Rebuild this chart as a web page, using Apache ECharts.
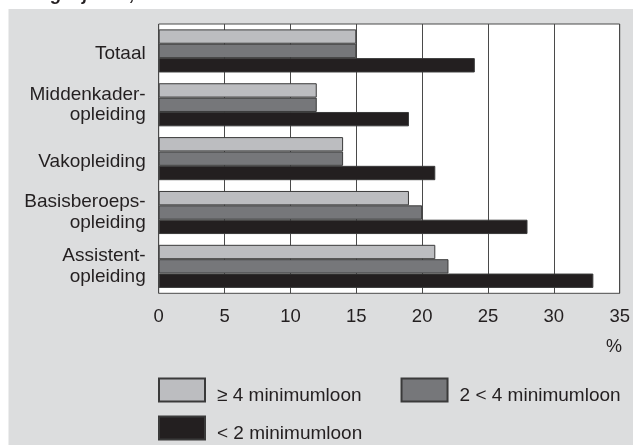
<!DOCTYPE html>
<html>
<head>
<meta charset="utf-8">
<style>
  html, body { margin: 0; padding: 0; background: #fff; }
  #chart { width: 633px; height: 445px; }
</style>
<script src="https://cdn.jsdelivr.net/npm/echarts@6/dist/echarts.min.js"></script>
</head>
<body>
<div id="chart"></div>
<script>
const titleText = "begin jaar 4, cohort 2003/'05";
const categories = ['Totaal', 'Middenkader-\nopleiding', 'Vakopleiding', 'Basisberoeps-\nopleiding', 'Assistent-\nopleiding'];
const seriesNames = ['\u2265 4 minimumloon', '2 < 4 minimumloon', '< 2 minimumloon'];
const seriesHigh = [15, 12, 14, 19, 21];
const seriesMid = [15, 12, 14, 20, 22];
const seriesLow = [24, 19, 21, 28, 33];
const xMin = 0, xMax = 35, xInterval = 5;
const unitLabel = '%';

const FONT = 'Liberation Sans, Arial, Helvetica, sans-serif';
const TXT = '#231f20';
const colors = ['#bcbdc0', '#76777a', '#231f20'];
const values = [seriesHigh, seriesMid, seriesLow];

const legendText = { fontFamily: FONT, fontSize: 19, lineHeight: 11, color: TXT, padding: [0, 0, 0, 7] };
const legendFormatter = function (name) { return '\n' + name; };

const chart = echarts.init(document.getElementById('chart'), null, { renderer: 'canvas' });
chart.setOption({
  backgroundColor: '#ffffff',
  animation: false,
  title: {
    text: titleText,
    left: 25,
    top: -18.5,
    textStyle: { fontFamily: FONT, fontSize: 18, fontWeight: 'bold', fontStyle: 'italic', color: TXT }
  },
  graphic: [
    { type: 'rect', z: -10, shape: { x: 8.5, y: 9, width: 640, height: 450 }, style: { fill: '#dcddde' }, silent: true },
    { type: 'text', x: 614, y: 347, style: { text: unitLabel, font: '18px ' + FONT, fill: TXT, textAlign: 'center', textVerticalAlign: 'middle' } }
  ],
  grid: {
    left: 158.7, right: 11, top: 24, bottom: 151.7,
    show: true, backgroundColor: '#ffffff', borderColor: '#4a4a4a', borderWidth: 1,
    containLabel: false
  },
  xAxis: {
    type: 'value', min: xMin, max: xMax, interval: xInterval,
    axisLine: { show: false }, axisTick: { show: false },
    splitLine: { show: true, lineStyle: { color: '#4a4a4a', width: 1 } },
    axisLabel: { margin: 14, fontFamily: FONT, fontSize: 18.5, color: TXT }
  },
  yAxis: {
    type: 'category', data: categories, inverse: true,
    axisLine: { show: false }, axisTick: { show: false }, splitLine: { show: false },
    axisLabel: {
      margin: 13, fontFamily: FONT, fontSize: 19, lineHeight: 20.5, color: TXT, align: 'right',
      formatter: function (v) {
        return v.indexOf('\n') < 0 ? '{s|' + v + '}' : v;
      },
      rich: {
        s: { fontFamily: FONT, fontSize: 19, lineHeight: 20.5, color: TXT, padding: [6, 0, 0, 0] }
      }
    }
  },
  legend: [
    {
      data: [seriesNames[0], seriesNames[1]], left: 158, top: 375, orient: 'horizontal', padding: 0,
      itemWidth: 46, itemHeight: 23, itemGap: 39, icon: 'rect',
      formatter: legendFormatter, textStyle: legendText
    },
    {
      data: [seriesNames[2]], left: 158, top: 413, orient: 'horizontal', padding: 0,
      itemWidth: 46, itemHeight: 23, icon: 'rect',
      formatter: legendFormatter, textStyle: legendText
    }
  ],
  series: seriesNames.map((name, i) => ({
    name: name, type: 'bar', data: values[i],
    barGap: '0%', barCategoryGap: '20%',
    itemStyle: { color: colors[i], borderColor: '#3a3a3a', borderWidth: 1 },
    emphasis: { disabled: true }
  }))
});
</script>
</body>
</html>
